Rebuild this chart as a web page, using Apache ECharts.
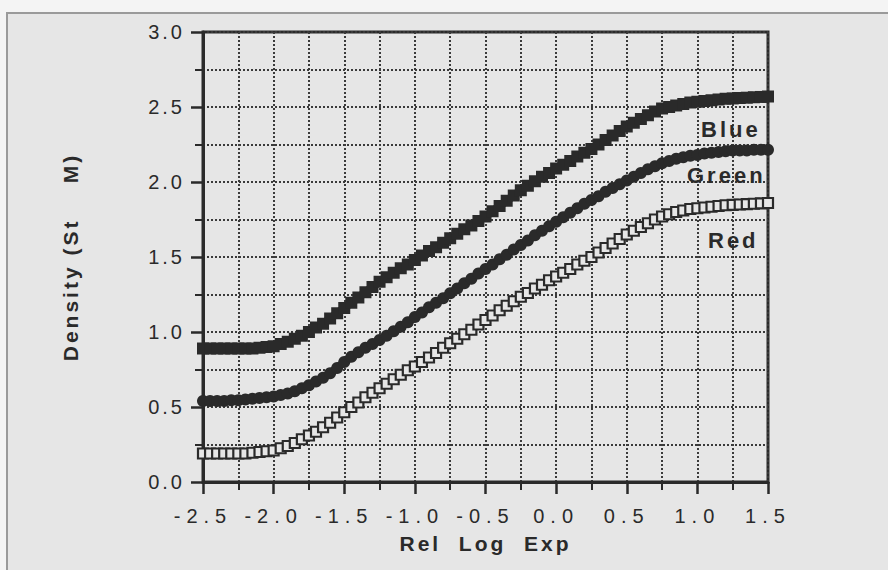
<!DOCTYPE html>
<html>
<head>
<meta charset="utf-8">
<script src="https://cdn.jsdelivr.net/npm/echarts@6.0.0/dist/echarts.min.js"></script>
<style>
  html, body { margin: 0; padding: 0; background: #f4f4f4; }
  #chart { width: 888px; height: 570px; }
  /* the scan has widely spaced lettering */
  #chart svg text { letter-spacing: 3px; }
  #chart svg text[text-anchor="middle"] { letter-spacing: 6px; }
  #chart svg text[style*="bold"], #chart svg text[font-weight="bold"] { letter-spacing: 3px; }
</style>
</head>
<body>
<div id="chart"></div>
<script>
// Rel Log Exp, one reading every 0.05
const relLogExp = [
  -2.50, -2.45, -2.40, -2.35, -2.30, -2.25, -2.20, -2.15, -2.10, -2.05,
  -2.00, -1.95, -1.90, -1.85, -1.80, -1.75, -1.70, -1.65, -1.60, -1.55,
  -1.50, -1.45, -1.40, -1.35, -1.30, -1.25, -1.20, -1.15, -1.10, -1.05,
  -1.00, -0.95, -0.90, -0.85, -0.80, -0.75, -0.70, -0.65, -0.60, -0.55,
  -0.50, -0.45, -0.40, -0.35, -0.30, -0.25, -0.20, -0.15, -0.10, -0.05,
  0.00, 0.05, 0.10, 0.15, 0.20, 0.25, 0.30, 0.35, 0.40, 0.45,
  0.50, 0.55, 0.60, 0.65, 0.70, 0.75, 0.80, 0.85, 0.90, 0.95,
  1.00, 1.05, 1.10, 1.15, 1.20, 1.25, 1.30, 1.35, 1.40, 1.45,
  1.50
];

const blueDensity = [
  0.89, 0.89, 0.89, 0.89, 0.89, 0.89, 0.89, 0.89, 0.895, 0.90,
  0.905, 0.92, 0.935, 0.955, 0.975, 1.00, 1.03, 1.055, 1.09, 1.125,
  1.16, 1.195, 1.23, 1.265, 1.30, 1.335, 1.365, 1.395, 1.425, 1.45,
  1.48, 1.51, 1.54, 1.565, 1.595, 1.625, 1.655, 1.685, 1.71, 1.74,
  1.77, 1.805, 1.84, 1.875, 1.91, 1.945, 1.975, 2.005, 2.035, 2.06,
  2.09, 2.115, 2.14, 2.17, 2.195, 2.22, 2.25, 2.28, 2.31, 2.34,
  2.37, 2.395, 2.42, 2.445, 2.47, 2.49, 2.50, 2.51, 2.52, 2.53,
  2.535, 2.54, 2.545, 2.55, 2.555, 2.557, 2.56, 2.562, 2.565, 2.567,
  2.57
];

const greenDensity = [
  0.54, 0.54, 0.54, 0.54, 0.545, 0.545, 0.55, 0.555, 0.56, 0.565,
  0.57, 0.58, 0.59, 0.605, 0.625, 0.645, 0.67, 0.695, 0.725, 0.76,
  0.80, 0.835, 0.865, 0.895, 0.92, 0.947, 0.975, 1.005, 1.035, 1.065,
  1.10, 1.13, 1.165, 1.195, 1.225, 1.258, 1.29, 1.325, 1.355, 1.39,
  1.42, 1.45, 1.485, 1.515, 1.55, 1.58, 1.61, 1.645, 1.675, 1.705,
  1.735, 1.765, 1.795, 1.825, 1.855, 1.88, 1.905, 1.935, 1.96, 1.985,
  2.01, 2.035, 2.06, 2.085, 2.105, 2.125, 2.14, 2.155, 2.165, 2.175,
  2.18, 2.19, 2.195, 2.20, 2.205, 2.21, 2.21, 2.21, 2.215, 2.215,
  2.215
];

const redDensity = [
  0.19, 0.19, 0.19, 0.19, 0.19, 0.19, 0.19, 0.195, 0.20, 0.205,
  0.21, 0.225, 0.24, 0.26, 0.285, 0.31, 0.335, 0.365, 0.395, 0.43,
  0.465, 0.50, 0.53, 0.565, 0.595, 0.625, 0.655, 0.685, 0.715, 0.745,
  0.77, 0.80, 0.83, 0.86, 0.895, 0.925, 0.955, 0.985, 1.015, 1.05,
  1.08, 1.11, 1.145, 1.175, 1.205, 1.235, 1.26, 1.29, 1.315, 1.345,
  1.37, 1.395, 1.42, 1.45, 1.475, 1.50, 1.53, 1.56, 1.59, 1.62,
  1.65, 1.675, 1.70, 1.725, 1.75, 1.77, 1.785, 1.80, 1.81, 1.82,
  1.825, 1.83, 1.835, 1.84, 1.845, 1.847, 1.85, 1.853, 1.855, 1.858,
  1.86
];

const curveNames = ['Blue', 'Green', 'Red'];

const ink = '#2a2a2a';
const pairs = (ys) => relLogExp.map((x, i) => [x, ys[i]]);

const chart = echarts.init(document.getElementById('chart'), null, { renderer: 'svg' });

const axisCommon = {
  type: 'value',
  interval: 0.5,
  axisLine: { show: true, onZero: false, lineStyle: { color: ink, width: 3 } },
  axisTick: { show: true, inside: false, length: 12, lineStyle: { color: ink, width: 2.5 } },
  minorTick: { show: true, splitNumber: 2, length: 8, lineStyle: { color: ink, width: 2 } },
  splitLine: { show: true, lineStyle: { color: '#3a3a3a', width: 2, type: [2, 2] } },
  minorSplitLine: { show: true, lineStyle: { color: '#3a3a3a', width: 2, type: [2, 2] } },
  nameTextStyle: { color: ink, fontFamily: 'Liberation Sans', fontWeight: 'bold', fontSize: 21 },
};

chart.setOption({
  backgroundColor: '#f4f4f4',
  animation: false,
  graphic: [
    {
      type: 'rect', z: -10, silent: true,
      shape: { x: 7, y: 13, width: 900, height: 600 },
      style: { fill: '#e6e6e6', stroke: '#9a9a9a', lineWidth: 2 }
    },
    {
      type: 'text', left: 701, top: 118, z: 10,
      style: { text: curveNames[0], fill: ink, font: 'bold 22px "Liberation Sans"' }
    },
    {
      type: 'text', left: 687, top: 164, z: 10,
      style: { text: curveNames[1], fill: ink, font: 'bold 22px "Liberation Sans"' }
    },
    {
      type: 'text', left: 708, top: 229, z: 10,
      style: { text: curveNames[2], fill: ink, font: 'bold 22px "Liberation Sans"' }
    }
  ],
  grid: {
    left: 203, top: 32, right: 120, bottom: 88,
    show: true, borderColor: ink, borderWidth: 3, backgroundColor: 'transparent'
  },
  xAxis: Object.assign({}, axisCommon, {
    min: -2.5, max: 1.5,
    name: 'Rel\u00a0\u00a0Log\u00a0\u00a0Exp',
    nameLocation: 'middle', nameGap: 51,
    axisLabel: {
      color: ink, fontFamily: 'Liberation Sans', fontSize: 20, margin: 24,
      formatter: (v) => v.toFixed(1)
    }
  }),
  yAxis: Object.assign({}, axisCommon, {
    min: 0, max: 3,
    name: 'Density\u00a0(St\u00a0\u00a0\u00a0\u00a0M)',
    nameLocation: 'middle', nameGap: 122,
    axisLabel: {
      color: ink, fontFamily: 'Liberation Sans', fontSize: 20, margin: 18,
      formatter: (v) => v.toFixed(1)
    }
  }),
  series: [
    {
      name: curveNames[2], type: 'line', data: pairs(redDensity), z: 3,
      symbol: 'rect', symbolSize: 10, showAllSymbol: true,
      lineStyle: { color: ink, width: 2 },
      itemStyle: { color: '#e6e6e6', borderColor: ink, borderWidth: 2.2 }
    },
    {
      name: curveNames[1], type: 'line', data: pairs(greenDensity), z: 4,
      symbol: 'circle', symbolSize: 12, showAllSymbol: true,
      lineStyle: { color: ink, width: 8 },
      itemStyle: { color: ink }
    },
    {
      name: curveNames[0], type: 'line', data: pairs(blueDensity), z: 5,
      symbol: 'rect', symbolSize: 12, showAllSymbol: true,
      lineStyle: { color: ink, width: 8 },
      itemStyle: { color: ink }
    }
  ]
});
</script>
</body>
</html>
